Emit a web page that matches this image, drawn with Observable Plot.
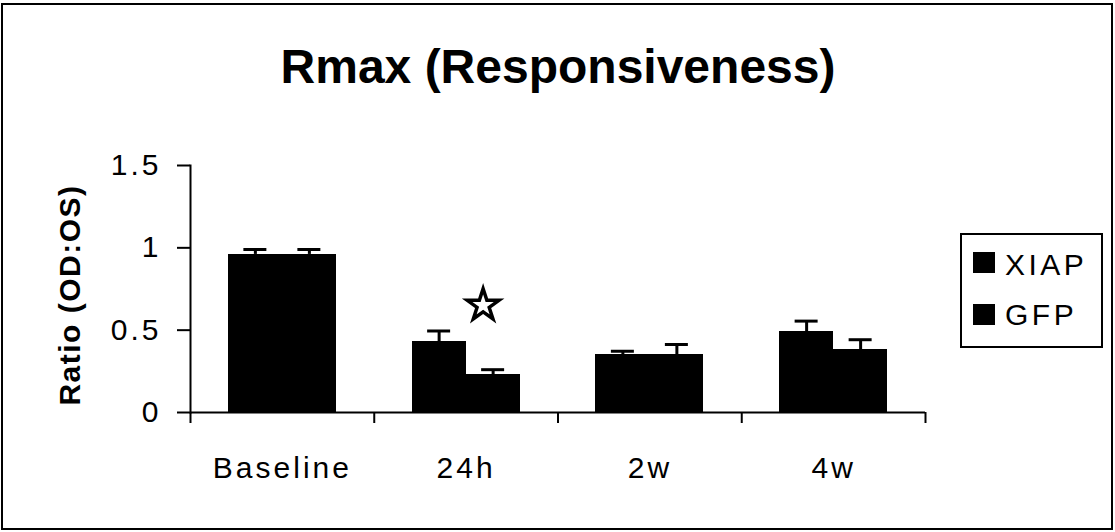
<!DOCTYPE html>
<html>
<head>
<meta charset="utf-8">
<script src="https://cdn.jsdelivr.net/npm/d3@7"></script>
<script src="https://cdn.jsdelivr.net/npm/@observablehq/plot@0.6"></script>
<style>
  html, body { margin: 0; padding: 0; background: #fff; }
  #wrap { position: relative; width: 1115px; height: 532px; font-family: "Liberation Sans", Arial, sans-serif; }
  #wrap svg { position: absolute; left: 0; top: 0; }
  #wrap svg g[aria-label$="tick label"] { letter-spacing: 3px; }
  #border { position: absolute; left: 1px; top: 3px; width: 1112px; height: 527px; border: 2px solid #000; box-sizing: border-box; pointer-events: none; }
  #legend { position: absolute; left: 960px; top: 233px; width: 143px; height: 115px; border: 2px solid #000; box-sizing: border-box; background: #fff; }
  #legend .sw { position: absolute; left: 11px; width: 22px; height: 21px; background: #000; }
  #legend .lb { position: absolute; left: 43px; font-size: 30px; line-height: 30px; letter-spacing: 3.5px; color: #000; white-space: nowrap; }
</style>
</head>
<body>
<div id="wrap">
  <div id="border"></div>
</div>
<script>
// Categories, series and values
const categories = ["Baseline", "24h", "2w", "4w"];
const series = ["XIAP", "GFP"];
const xiapValues = [0.96, 0.43, 0.35, 0.49];
const xiapErrors = [0.03, 0.065, 0.022, 0.065];
const gfpValues = [0.96, 0.23, 0.35, 0.38];
const gfpErrors = [0.03, 0.03, 0.063, 0.062];
const yTicks = [0, 0.5, 1, 1.5];
const significance = [{category: "24h", value: 0.65}];
const title = "Rmax (Responsiveness)";
const yLabel = "Ratio (OD:OS)";

const xiapRows = categories.map((c, i) => ({category: c, value: xiapValues[i], err: xiapErrors[i]}));
const gfpRows = categories.map((c, i) => ({category: c, value: gfpValues[i], err: gfpErrors[i]}));

// Layout
const width = 1115, height = 532;
const marginLeft = 190, marginRight = 190, marginTop = 165, marginBottom = 120;
const step = (width - marginLeft - marginRight) / categories.length;
const barW = 54, capW = 23, half = step / 2;
const font = "Liberation Sans, Arial, sans-serif";

const chart = Plot.plot({
  width, height, marginLeft, marginRight, marginTop, marginBottom,
  style: {fontFamily: font, color: "#000", background: "transparent"},
  x: {domain: categories, paddingInner: 0, paddingOuter: 0, round: false},
  y: {domain: [0, 1.5]},
  marks: [
    // bars
    Plot.barY(xiapRows, {x: "category", y: "value", fill: "#000", insetLeft: half - barW, insetRight: half, shapeRendering: "crispEdges"}),
    Plot.barY(gfpRows, {x: "category", y: "value", fill: "#000", insetLeft: half, insetRight: half - barW, shapeRendering: "crispEdges"}),
    // upper error bars
    Plot.ruleX(xiapRows, {x: "category", y1: "value", y2: d => d.value + d.err, dx: -barW / 2, stroke: "#000", strokeWidth: 3}),
    Plot.ruleX(gfpRows, {x: "category", y1: "value", y2: d => d.value + d.err, dx: barW / 2, stroke: "#000", strokeWidth: 3}),
    Plot.tickY(xiapRows, {x: "category", y: d => d.value + d.err, insetLeft: half - barW / 2 - capW / 2, insetRight: half + barW / 2 - capW / 2, stroke: "#000", strokeWidth: 3}),
    Plot.tickY(gfpRows, {x: "category", y: d => d.value + d.err, insetLeft: half + barW / 2 - capW / 2, insetRight: half - barW / 2 - capW / 2, stroke: "#000", strokeWidth: 3}),
    // significance star
    Plot.dot(significance, {x: "category", y: "value", symbol: "star", r: 10, dx: 17, fill: "#fff", stroke: "#000", strokeWidth: 3.5}),
    // axes
    Plot.frame({anchor: "left", stroke: "#000", strokeWidth: 2}),
    Plot.ruleY([0], {stroke: "#000", strokeWidth: 2}),
    Plot.ruleX(categories, {y1: 0, y2: 0, dx: -half, insetTop: 0, insetBottom: -11, stroke: "#000", strokeWidth: 2}),
    Plot.ruleX(categories.slice(-1), {y1: 0, y2: 0, dx: half, insetTop: 0, insetBottom: -11, stroke: "#000", strokeWidth: 2}),
    Plot.axisY({ticks: yTicks, tickFormat: d => String(d), tickSize: 13, tickPadding: 16, fontSize: 30, strokeWidth: 2, label: null}),
    Plot.axisX({tickSize: 0, tickPadding: 44, fontSize: 30, label: null}),
    // titles
    Plot.text([yLabel], {frameAnchor: "left", textAnchor: "middle", rotate: -90, dx: -120, dy: 6, fontSize: 30, fontWeight: "bold", lineAnchor: "middle"}),
    Plot.text([title], {frameAnchor: "top", dy: 82 - marginTop, fontSize: 48, fontWeight: "bold", lineAnchor: "bottom"})
  ]
});

// wider letter spacing on the axis title
d3.select(chart).selectAll("text").filter(function () { return this.textContent === yLabel; })
  .style("letter-spacing", "1.5px");

const wrap = document.getElementById("wrap");
wrap.insertBefore(chart, wrap.firstChild);

// legend
const legend = document.createElement("div");
legend.id = "legend";
const swatchTops = [17, 69];
const labelTops = [14.6, 64.6];
series.forEach((s, i) => {
  const sw = document.createElement("div");
  sw.className = "sw";
  sw.style.top = swatchTops[i] + "px";
  const lb = document.createElement("div");
  lb.className = "lb";
  lb.style.top = labelTops[i] + "px";
  lb.textContent = s;
  legend.appendChild(sw);
  legend.appendChild(lb);
});
wrap.appendChild(legend);
</script>
</body>
</html>
